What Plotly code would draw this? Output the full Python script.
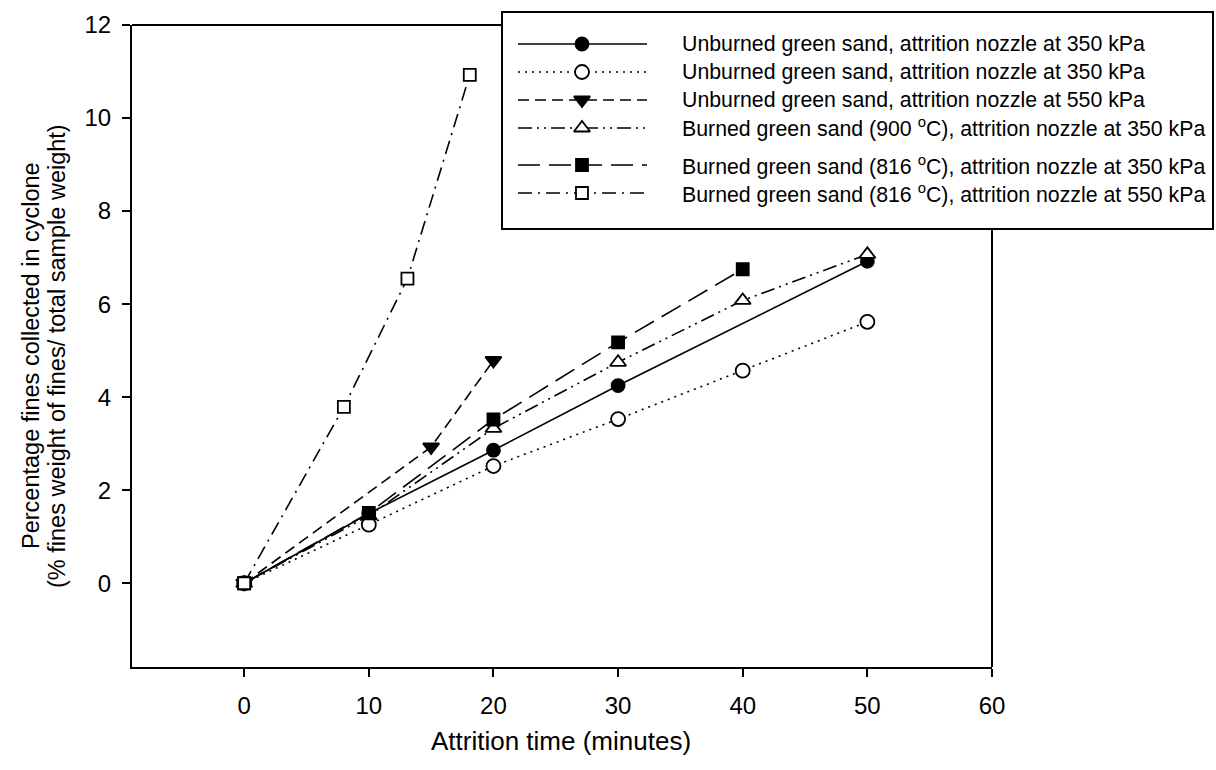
import plotly.graph_objects as go

# ---------------- data ----------------
t_s1 = [0, 10, 20, 30, 50]
y_s1 = [0, 1.50, 2.86, 4.25, 6.92]

t_s2 = [0, 10, 20, 30, 40, 50]
y_s2 = [0, 1.26, 2.52, 3.53, 4.57, 5.62]

t_s3 = [0, 15, 20]
y_s3 = [0, 2.93, 4.79]

t_s4 = [0, 10, 20, 30, 40, 50]
y_s4 = [0, 1.45, 3.33, 4.75, 6.08, 7.07]

t_s5 = [0, 10, 20, 30, 40]
y_s5 = [0, 1.51, 3.52, 5.18, 6.75]

t_s6 = [0, 8, 13.1, 18.1]
y_s6 = [0, 3.79, 6.55, 10.93]

series_names = [
    "Unburned green sand, attrition nozzle at 350 kPa",
    "Unburned green sand, attrition nozzle at 350 kPa",
    "Unburned green sand, attrition nozzle at 550 kPa",
    "Burned green sand (900 <sup>o</sup>C), attrition nozzle at 350 kPa",
    "Burned green sand (816 <sup>o</sup>C), attrition nozzle at 350 kPa",
    "Burned green sand (816 <sup>o</sup>C), attrition nozzle at 550 kPa",
]

x_tick_vals = [0, 10, 20, 30, 40, 50, 60]
y_tick_vals = [0, 2, 4, 6, 8, 10, 12]

x_title = "Attrition time (minutes)"
y_title_lines = ["Percentage fines collected in cyclone",
                 "(% fines weight of fines/ total sample weight)"]

# ---------------- styles ----------------
FONT = "Liberation Sans, Arial, sans-serif"
styles = [
    dict(dash="solid", symbol="circle", fill="black", size=13),
    dict(dash="2px,5px", symbol="circle", fill="white", size=14),
    dict(dash="11px,6px", symbol="triangle-down", fill="black", size=14),
    dict(dash="14px,5px,2px,5px,2px,5px", symbol="triangle-up", fill="white", size=14),
    dict(dash="22px,9px", symbol="square", fill="black", size=12),
    dict(dash="14px,6px,2px,6px", symbol="square", fill="white", size=12),
]
all_t = [t_s1, t_s2, t_s3, t_s4, t_s5, t_s6]
all_y = [y_s1, y_s2, y_s3, y_s4, y_s5, y_s6]

W, H = 1216, 770
ML, MR, MT, MB = 132, 224, 25, 103
PW, PH = W - ML - MR, H - MT - MB


def px_x(p):
    return (p - ML) / PW


def px_y(p):
    return (H - MB - p) / PH


fig = go.Figure()

for t, y, st in zip(all_t, all_y, styles):
    fig.add_trace(go.Scatter(
        x=t, y=y, mode="lines+markers", showlegend=False,
        line=dict(color="black", width=1.6, dash=st["dash"]),
        marker=dict(symbol=st["symbol"], size=st["size"], color=st["fill"],
                    line=dict(color="black", width=1.8)),
        cliponaxis=False,
    ))

# ---------------- custom legend (layout) ----------------
LEG_L, LEG_R, LEG_T, LEG_B = 502, 1213, 12, 229
ROW_Y = [44, 72, 100, 128, 165, 193]
SAMPLE_X0, SAMPLE_X1, MARK_X, TEXT_X = 518, 647, 582, 680

shapes = [
    dict(type="rect", xref="paper", yref="paper", layer="below",
         x0=px_x(LEG_L), x1=px_x(LEG_R), y0=px_y(LEG_B), y1=px_y(LEG_T),
         line=dict(color="black", width=2), fillcolor="white"),
    # top frame line, visible only to the left of the legend box
    dict(type="line", xref="paper", yref="paper", layer="above",
         x0=0, x1=px_x(LEG_L), y0=1, y1=1, line=dict(color="black", width=2)),
    # right frame line, below the legend box
    dict(type="line", xref="paper", yref="paper", layer="above",
         x0=1, x1=1, y0=0, y1=px_y(LEG_B), line=dict(color="black", width=2)),
]
annotations = []
for ry, st, nm in zip(ROW_Y, styles, series_names):
    shapes.append(dict(type="line", xref="paper", yref="paper", layer="below",
                       x0=px_x(SAMPLE_X0), x1=px_x(SAMPLE_X1), y0=px_y(ry), y1=px_y(ry),
                       line=dict(color="black", width=1.6, dash=st["dash"])))
    annotations.append(dict(xref="paper", yref="paper", x=px_x(TEXT_X), y=px_y(ry),
                            xanchor="left", yanchor="middle", showarrow=False,
                            text=nm, font=dict(family=FONT, size=21.3, color="black")))
    fig.add_trace(go.Scatter(
        x=[MARK_X], y=[ry], xaxis="x2", yaxis="y2", mode="markers", showlegend=False,
        hoverinfo="skip", cliponaxis=False,
        marker=dict(symbol=st["symbol"], size=st["size"], color=st["fill"],
                    line=dict(color="black", width=1.8)),
    ))

for line_txt, lx in zip(y_title_lines, [31, 57]):
    annotations.append(dict(xref="paper", yref="paper", x=px_x(lx), y=px_y(356),
                            xanchor="center", yanchor="middle", showarrow=False, textangle=-90,
                            text=line_txt, font=dict(family=FONT, size=23.5, color="black")))
annotations.append(dict(xref="paper", yref="paper", x=px_x(561), y=px_y(741),
                        xanchor="center", yanchor="middle", showarrow=False,
                        text=x_title, font=dict(family=FONT, size=26, color="black")))

axis_common = dict(showgrid=False, zeroline=False, showline=True, linecolor="black",
                   linewidth=2, ticks="outside", ticklen=8, tickwidth=1.5,
                   tickcolor="black", mirror=False,
                   tickfont=dict(family=FONT, size=24, color="black"))

fig.update_layout(
    width=W, height=H,
    margin=dict(l=ML, r=MR, t=MT, b=MB, pad=0),
    paper_bgcolor="white", plot_bgcolor="white",
    showlegend=False,
    xaxis=dict(range=[-9, 60], tickvals=x_tick_vals, ticklabelstandoff=8, **axis_common),
    yaxis=dict(range=[-1.8, 12], tickvals=y_tick_vals, ticklabelstandoff=6, **axis_common),
    xaxis2=dict(range=[ML, ML + PW], overlaying="x", visible=False, anchor="y2"),
    yaxis2=dict(range=[H - MB, MT], overlaying="y", visible=False, anchor="x2"),
    shapes=shapes,
    annotations=annotations,
)

fig.write_html("out.html")
